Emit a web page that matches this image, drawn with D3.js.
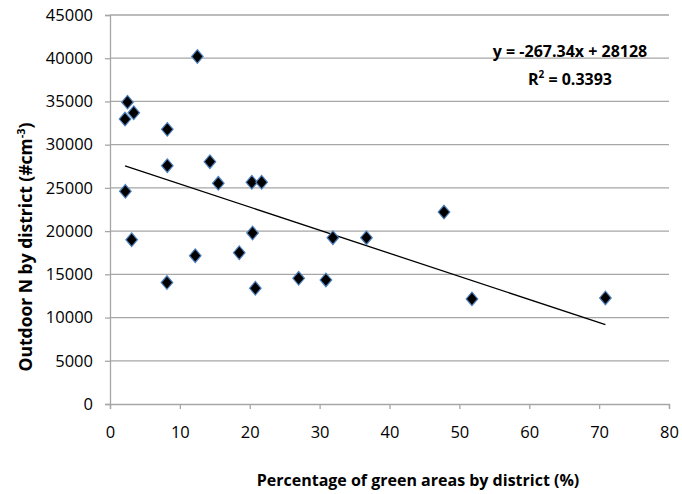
<!DOCTYPE html>
<html>
<head>
<meta charset="utf-8">
<script src="https://cdn.jsdelivr.net/npm/d3@7"></script>
<style>
  body { margin: 0; background: #ffffff; }
  svg { display: block; }
</style>
</head>
<body>
<div id="chart"></div>
<script>
// green area share (%) per district
const greenPct = [12.5, 2.5, 2.15, 3.4, 8.2, 8.2, 14.3, 15.5, 20.3, 21.7, 2.2, 3.1,
                  8.15, 12.2, 18.5, 20.4, 20.8, 27.0, 30.9, 31.9, 36.7, 47.8, 51.8, 70.9]
// outdoor N (#cm-3) per district
const outdoorN = [40200, 34920, 32960, 33690, 31770, 27570, 28030, 25530, 25650, 25650, 24600, 19000,
                  14050, 17160, 17500, 19780, 13390, 14540, 14350, 19240, 19240, 22200, 12160, 12270]
const xTicks = [0, 10, 20, 30, 40, 50, 60, 70, 80]
const yTicks = [0, 5000, 10000, 15000, 20000, 25000, 30000, 35000, 40000, 45000]
const slope = -267.34
const intercept = 28128
const r2 = 0.3393

const W = 682, H = 494
const margin = {top: 15, right: 13, bottom: 90, left: 110}
const width = W - margin.left - margin.right
const height = H - margin.top - margin.bottom

const points = greenPct.map((x, i) => ({x: x, y: outdoorN[i]}))

const svg = d3.select('#chart')
  .append('svg')
    .attr('width', W)
    .attr('height', H)

const g = svg.append('g')
  .attr('transform', 'translate(' + margin.left + ',' + margin.top + ')')

const x = d3.scaleLinear().domain([0, 80]).range([0, width])
const y = d3.scaleLinear().domain([0, 45000]).range([height, 0])

const font = '"Open Sans", sans-serif'

// gridlines
g.append('g')
  .selectAll('line')
  .data(yTicks.filter(d => d > 0))
  .enter()
  .append('line')
    .attr('x1', 0)
    .attr('x2', width)
    .attr('y1', d => y(d))
    .attr('y2', d => y(d))
    .style('stroke', '#a6a6a6')
    .style('stroke-width', 1.3)

// Y axis
const yAxis = g.append('g')
  .call(d3.axisLeft(y).tickValues(yTicks).tickSize(5).tickPadding(12).tickFormat(d3.format('d')))
yAxis.select('.domain').style('stroke', '#a6a6a6').style('stroke-width', 1.3)
yAxis.selectAll('.tick line').style('stroke', '#a6a6a6').style('stroke-width', 1.3)
yAxis.selectAll('text')
  .style('font-family', font)
  .style('font-size', '16.5px')
  .style('fill', '#000')

// X axis
const xAxis = g.append('g')
  .attr('transform', 'translate(0,' + height + ')')
  .call(d3.axisBottom(x).tickValues(xTicks).tickSize(5).tickPadding(17))
xAxis.select('.domain').style('stroke', '#a6a6a6').style('stroke-width', 1.3)
xAxis.selectAll('.tick line').style('stroke', '#a6a6a6').style('stroke-width', 1.3)
xAxis.selectAll('text')
  .style('font-family', font)
  .style('font-size', '16.5px')
  .style('fill', '#000')

// trendline over the data range
const xMin = d3.min(greenPct), xMax = d3.max(greenPct)
g.append('line')
  .attr('x1', x(xMin))
  .attr('y1', y(slope * xMin + intercept))
  .attr('x2', x(xMax))
  .attr('y2', y(slope * xMax + intercept))
  .style('stroke', '#000')
  .style('stroke-width', 1.3)

// diamond markers
const diamond = 'M0,-6.8L5.8,0L0,6.8L-5.8,0Z'
g.append('g')
  .selectAll('path')
  .data(points)
  .enter()
  .append('path')
    .attr('d', diamond)
    .attr('transform', d => 'translate(' + x(d.x) + ',' + y(d.y) + ')')
    .style('fill', '#000')
    .style('stroke', '#4f81bd')
    .style('stroke-width', 1.2)

// equation
const eqX = 570 - margin.left
const eq = g.append('text')
  .attr('x', eqX)
  .attr('y', 57 - margin.top)
  .attr('text-anchor', 'middle')
  .style('font-family', font)
  .style('font-size', '16px')
  .style('font-weight', 'bold')
eq.append('tspan')
  .attr('x', eqX)
  .text('y = ' + slope + 'x + ' + intercept)
const r2Line = eq.append('tspan')
  .attr('x', eqX)
  .attr('dy', 28)
r2Line.append('tspan').text('R')
r2Line.append('tspan').attr('dy', -7).style('font-size', '10px').text('2')
r2Line.append('tspan').attr('dy', 7).text(' = ' + r2)

// X title
svg.append('text')
  .attr('x', 418)
  .attr('y', 486)
  .attr('text-anchor', 'middle')
  .style('font-family', font)
  .style('font-size', '16px')
  .style('font-weight', 'bold')
  .text('Percentage of green areas by district (%)')

// Y title
const yTitle = svg.append('text')
  .attr('transform', 'translate(32,247) rotate(-90)')
  .attr('text-anchor', 'middle')
  .style('font-family', font)
  .style('font-size', '17.5px')
  .style('font-weight', 'bold')
yTitle.append('tspan').text('Outdoor N by district (#cm')
yTitle.append('tspan').attr('dy', -7).style('font-size', '11px').text('-3')
yTitle.append('tspan').attr('dy', 7).text(')')
</script>
</body>
</html>
